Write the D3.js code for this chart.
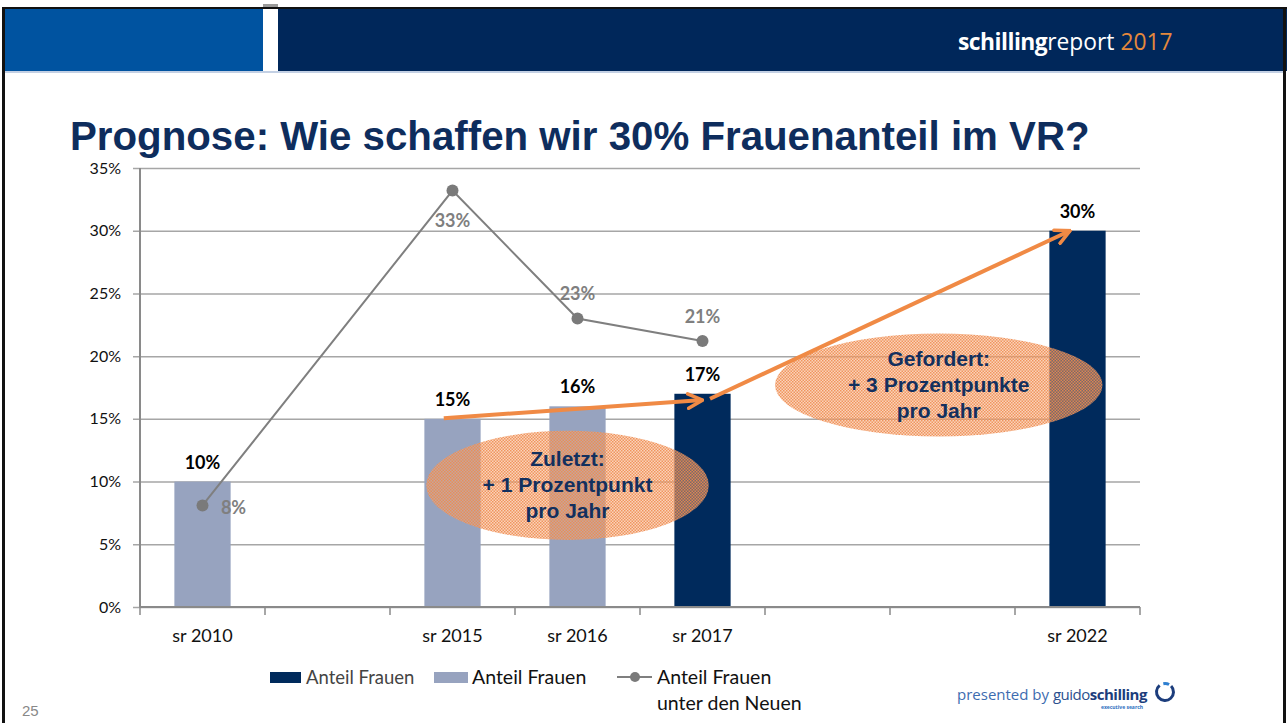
<!DOCTYPE html>
<html><head><meta charset="utf-8">
<script src="https://cdn.jsdelivr.net/npm/d3@7"></script>
<style>html,body{margin:0;padding:0;background:#fff;}svg{display:block;}</style>
</head><body>
<svg id="chart" width="1287" height="723"></svg>
<script>
// ---- data ----
const categories = ["sr 2010","gap1","sr 2015","sr 2016","sr 2017","gap2","gap3","sr 2022"];
const tickLabels = ["sr 2010","","sr 2015","sr 2016","sr 2017","","","sr 2022"];
const barCategories = ["sr 2010","sr 2015","sr 2016","sr 2017","sr 2022"];
const barValues = [10,15,16,17,30];
const barSeries = ["light","light","light","dark","dark"];
const barLabels = ["10%","15%","16%","17%","30%"];
const lineCategories = ["sr 2010","sr 2015","sr 2016","sr 2017"];
const lineValues = [8.1,33.2,23.0,21.2];
const lineLabels = ["8%","33%","23%","21%"];
const yTicks = [0,5,10,15,20,25,30,35];
const yTickLabels = ["0%","5%","10%","15%","20%","25%","30%","35%"];
const legendLabels = ["Anteil Frauen","Anteil Frauen","Anteil Frauen","unter den Neuen"];
// annotations in data units (band index, percent)
const arrowStarts = [[2.43,15.05],[4.56,16.6]];
const arrowEnds = [[4.50,16.5],[7.44,30.0]];
const ellipseCenters = [[3.42,9.7],[6.39,17.7]];
const ellipseRadii = [[1.13,4.35],[1.31,4.1]];
const ellipseTexts = [["Zuletzt:","+ 1 Prozentpunkt","pro Jahr"],["Gefordert:","+ 3 Prozentpunkte","pro Jahr"]];

const svg = d3.select("#chart");
const W = 1287, H = 723;
const navy = "#002a5c", light = "#97a3bf", orange = "#f08a45";

// ---- slide frame & header ----
svg.append("rect").attr("x",0).attr("y",0).attr("width",W).attr("height",H).attr("fill","#fff");
svg.append("rect").attr("x",263).attr("y",4).attr("width",15).attr("height",5).attr("fill","#9a9a9a");
svg.append("rect").attr("x",4).attr("y",7).attr("width",W-4).attr("height",2).attr("fill","#111");
svg.append("rect").attr("x",5).attr("y",9).attr("width",258).attr("height",62).attr("fill","#0053a0");
svg.append("rect").attr("x",278).attr("y",9).attr("width",W-278).attr("height",62).attr("fill","#00275a");
svg.append("rect").attr("x",5).attr("y",71).attr("width",W-8).attr("height",2).attr("fill","#c3d0e4");
svg.append("rect").attr("x",2).attr("y",7).attr("width",3).attr("height",H-7).attr("fill","#111");
svg.append("rect").attr("x",1283).attr("y",7).attr("width",3).attr("height",H-7).attr("fill","#111");
// faint logo arc
const arcGen = d3.arc().innerRadius(36).outerRadius(48).startAngle(-2.6).endAngle(1.0);
svg.append("clipPath").attr("id","hdr").append("rect").attr("x",278).attr("y",9).attr("width",W-278).attr("height",62);
svg.append("path").attr("d",arcGen()).attr("transform","translate(1058,80)").attr("fill","#1f3f70").attr("clip-path","url(#hdr)");
const logo = svg.append("text").attr("x",958).attr("y",50).attr("font-family","Open Sans, sans-serif").attr("font-size",22.8).attr("fill","#fff");
logo.append("tspan").attr("font-weight","bold").attr("letter-spacing",-0.5).text("schilling");
logo.append("tspan").text("report ");
logo.append("tspan").attr("fill","#e5893c").text("2017");

// title
const title = svg.append("text").attr("x",70).attr("y",150)
  .attr("font-family","Liberation Sans, Arial, sans-serif").attr("font-weight","bold")
  .attr("font-size",40).attr("fill","#0e2d5d").text("Prognose: Wie schaffen wir 30% Frauenanteil im VR?");
const tw = title.node().getComputedTextLength();
title.attr("font-size", 40*1020/tw);

// ---- scales ----
const x = d3.scaleBand().domain(categories).range([140,1140]).paddingInner(0).paddingOuter(0);
const xi = d3.scaleLinear().domain([0,categories.length]).range([140,1140]);
const y = d3.scaleLinear().domain([0,35]).range([607,168]);
const barW = x.bandwidth()*0.45;

// gridlines + y axis
const yAxis = d3.axisLeft(y).tickValues(yTicks).tickSize(1000+7).tickFormat((d,i)=>yTickLabels[i]);
const gy = svg.append("g").attr("transform","translate(1140,0)").call(yAxis);
gy.select(".domain").remove();
gy.selectAll(".tick line").attr("stroke","#a6a6a6").attr("stroke-width",1.5);
gy.selectAll(".tick text").attr("x",-1000-19).attr("font-family","Lato, sans-serif").attr("font-size",16).attr("fill","#111");
svg.append("line").attr("x1",140).attr("x2",140).attr("y1",168).attr("y2",607).attr("stroke","#8a8a8a").attr("stroke-width",2);

// bars
svg.append("g").selectAll("rect").data(barValues).join("rect")
  .attr("x",(d,i)=>x(barCategories[i])+(x.bandwidth()-barW)/2)
  .attr("y",d=>y(d)).attr("width",barW).attr("height",d=>y(0)-y(d))
  .attr("fill",(d,i)=>barSeries[i]==="dark"?navy:light);

// x axis
svg.append("line").attr("x1",140).attr("x2",1140).attr("y1",607).attr("y2",607).attr("stroke","#8a8a8a").attr("stroke-width",2);
const boundaries = d3.range(categories.length+1);
svg.append("g").selectAll("line").data(boundaries).join("line")
  .attr("x1",d=>xi(d)).attr("x2",d=>xi(d)).attr("y1",607).attr("y2",615).attr("stroke","#8a8a8a").attr("stroke-width",1.5);
svg.append("g").selectAll("text").data(categories).join("text")
  .attr("x",d=>x(d)+x.bandwidth()/2).attr("y",642).attr("text-anchor","middle")
  .attr("font-family","Lato, sans-serif").attr("font-size",18).attr("fill","#111")
  .text((d,i)=>tickLabels[i]);

// bar labels
svg.append("g").selectAll("text").data(barValues).join("text")
  .attr("x",(d,i)=>x(barCategories[i])+x.bandwidth()/2).attr("y",d=>y(d)-13)
  .attr("text-anchor","middle").attr("font-family","Lato, sans-serif").attr("font-weight","bold")
  .attr("font-size",18).attr("fill","#000").text((d,i)=>barLabels[i]);

// line series
const lineGen = d3.line().x((d,i)=>x(lineCategories[i])+x.bandwidth()/2).y(d=>y(d));
svg.append("path").datum(lineValues).attr("d",lineGen).attr("fill","none").attr("stroke","#7f7f7f").attr("stroke-width",2);
svg.append("g").selectAll("circle").data(lineValues).join("circle")
  .attr("cx",(d,i)=>x(lineCategories[i])+x.bandwidth()/2).attr("cy",d=>y(d)).attr("r",6).attr("fill","#7a7a7a");
const lblOff = [[31,9],[0,36],[0,-19],[0,-18]];
svg.append("g").selectAll("text").data(lineValues).join("text")
  .attr("x",(d,i)=>x(lineCategories[i])+x.bandwidth()/2+lblOff[i][0]).attr("y",(d,i)=>y(d)+lblOff[i][1])
  .attr("text-anchor","middle").attr("font-family","Lato, sans-serif").attr("font-weight","bold")
  .attr("font-size",18).attr("fill","#7f7f7f").text((d,i)=>lineLabels[i]);

// ellipse pattern
const defs = svg.append("defs");
const pat = defs.append("pattern").attr("id","dots").attr("width",3).attr("height",3).attr("patternUnits","userSpaceOnUse");
pat.append("rect").attr("width",3).attr("height",3).attr("fill","#f5a877").attr("opacity",0.5);
pat.append("rect").attr("width",1.5).attr("height",1.5).attr("fill","#ef8a4e").attr("opacity",0.85);
pat.append("rect").attr("x",1.5).attr("y",1.5).attr("width",1.5).attr("height",1.5).attr("fill","#ef8a4e").attr("opacity",0.85);

svg.append("g").selectAll("ellipse").data(ellipseCenters).join("ellipse")
  .attr("cx",d=>xi(d[0])).attr("cy",d=>y(d[1]))
  .attr("rx",(d,i)=>xi(ellipseRadii[i][0])-xi(0)).attr("ry",(d,i)=>y(0)-y(ellipseRadii[i][1]))
  .attr("fill","url(#dots)");
ellipseCenters.forEach((c,i)=>{
  svg.append("g").selectAll("text").data(ellipseTexts[i]).join("text")
    .attr("x",xi(c[0])).attr("y",(d,j)=>y(c[1])+(j-1)*26+7)
    .attr("text-anchor","middle").attr("font-family","Liberation Sans, Arial, sans-serif").attr("font-weight","bold")
    .attr("font-size",21).attr("fill","#13305e").text(d=>d);
});

// arrows
defs.append("marker").attr("id","arr").attr("viewBox","0 0 10 10").attr("refX",9).attr("refY",5)
  .attr("markerWidth",18).attr("markerHeight",18).attr("markerUnits","userSpaceOnUse").attr("orient","auto")
  .append("path").attr("d","M1,1 L9,5 L1,9").attr("fill","none").attr("stroke",orange).attr("stroke-width",2).attr("stroke-linecap","round");
svg.append("g").selectAll("line").data(arrowStarts).join("line")
  .attr("x1",d=>xi(d[0])).attr("y1",d=>y(d[1]))
  .attr("x2",(d,i)=>xi(arrowEnds[i][0])).attr("y2",(d,i)=>y(arrowEnds[i][1]))
  .attr("stroke",orange).attr("stroke-width",4).attr("marker-end","url(#arr)");

// legend
const lg = svg.append("g").attr("font-family","Lato, sans-serif").attr("font-size",19.5);
lg.append("rect").attr("x",270).attr("y",672).attr("width",31).attr("height",11).attr("fill",navy);
lg.append("text").attr("x",306).attr("y",684).attr("fill","#444").attr("font-size",18.5).text(legendLabels[0]);
lg.append("rect").attr("x",434).attr("y",672).attr("width",34).attr("height",11).attr("fill",light);
lg.append("text").attr("x",472).attr("y",684).attr("fill","#111").text(legendLabels[1]);
lg.append("line").attr("x1",617).attr("x2",652).attr("y1",677).attr("y2",677).attr("stroke","#7f7f7f").attr("stroke-width",2);
lg.append("circle").attr("cx",635).attr("cy",677).attr("r",5).attr("fill","#7a7a7a");
lg.append("text").attr("x",657).attr("y",684).attr("fill","#111").text(legendLabels[2]);
lg.append("text").attr("x",657).attr("y",710).attr("fill","#111").text(legendLabels[3]);

// footer
svg.append("text").attr("x",22).attr("y",716).attr("font-family","Liberation Sans, Arial, sans-serif").attr("font-size",15).attr("fill","#888").text("25");
const pb = svg.append("text").attr("x",957).attr("y",700).attr("font-family","Open Sans, sans-serif").attr("font-size",15);
pb.append("tspan").attr("fill","#3d6cb0").text("presented by ");
pb.append("tspan").attr("fill","#2b4f8e").attr("letter-spacing",-0.5).text("guido");
pb.append("tspan").attr("fill","#1c3d7c").attr("font-weight","bold").attr("letter-spacing",-0.5).text("schilling");
svg.append("text").attr("x",1122).attr("y",709).attr("text-anchor","middle").attr("font-family","Open Sans, sans-serif").attr("font-size",5).attr("font-weight","bold").attr("fill","#2e6fc0").text("executive search");
const la = d3.arc().innerRadius(7).outerRadius(10);
svg.append("path").attr("d",la({startAngle:0.8,endAngle:5.6})).attr("transform","translate(1165,692)").attr("fill","#1c3d7c");
svg.append("path").attr("d",la({startAngle:-0.2,endAngle:0.5})).attr("transform","translate(1165,692)").attr("fill","#2e7fd0");
</script>
</body></html>
